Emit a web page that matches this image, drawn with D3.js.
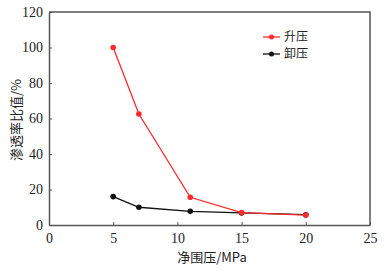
<!DOCTYPE html>
<html>
<head>
<meta charset="utf-8">
<script src="https://cdn.jsdelivr.net/npm/d3@7"></script>
<style>
  body { margin: 0; background: #fff; }
  svg { display: block; }
</style>
</head>
<body>
<svg id="chart"></svg>
<script>
// Data
var pressure = [5, 7, 11, 15, 20];
var loading = [100, 62.5, 15.6, 7, 5.6];     // 升压
var unloading = [16, 10, 7.7, 6.8, 5.8];     // 卸压
var xTicks = [0, 5, 10, 15, 20, 25];
var yTicks = [0, 20, 40, 60, 80, 100, 120];

var svgWidth = 390, svgHeight = 277;
var margin = { top: 12, right: 20, bottom: 52, left: 49 };
var width = svgWidth - margin.left - margin.right;
var height = svgHeight - margin.top - margin.bottom;

var svg = d3.select("#chart")
    .attr("width", svgWidth)
    .attr("height", svgHeight);

var g = svg.append("g")
    .attr("transform", "translate(" + margin.left + "," + margin.top + ")");

var x = d3.scaleLinear().domain([0, 25]).range([0, width]);
var y = d3.scaleLinear().domain([0, 120]).range([height, 0]);

var numFont = "'Liberation Serif', 'Times New Roman', serif";
var cjkFont = "'Noto Sans CJK SC', sans-serif";
var axisColor = "#555";

// axes with inner ticks
var xAxis = g.append("g")
    .attr("transform", "translate(0," + height + ")")
    .call(d3.axisBottom(x).tickValues(xTicks).tickSizeInner(-3).tickSizeOuter(0).tickPadding(8));
var yAxis = g.append("g")
    .call(d3.axisLeft(y).tickValues(yTicks).tickSizeInner(-3).tickSizeOuter(0).tickPadding(6));

[xAxis, yAxis].forEach(function(a) {
    a.select(".domain").attr("stroke", axisColor).attr("stroke-width", 1.5);
    a.selectAll(".tick line").attr("stroke", axisColor);
    a.selectAll(".tick text")
        .attr("fill", "#222")
        .style("font-family", numFont)
        .style("font-size", "14px");
});

// top and right border
g.append("path")
    .attr("d", "M0,0H" + width + "V" + height)
    .attr("fill", "none")
    .attr("stroke", axisColor)
    .attr("stroke-width", 1.5);

var series = [
    { name: "升压", values: loading, color: "#ff2a2a" },
    { name: "卸压", values: unloading, color: "#111" }
];

var line = d3.line()
    .x(function(d) { return x(d[0]); })
    .y(function(d) { return y(d[1]); });

// draw black under red
series.slice().reverse().forEach(function(s) {
    var pts = pressure.map(function(p, i) { return [p, s.values[i]]; });
    g.append("path")
        .datum(pts)
        .attr("d", line)
        .attr("fill", "none")
        .attr("stroke", s.color)
        .attr("stroke-width", 1.3);
    g.selectAll(null)
        .data(pts)
      .enter().append("circle")
        .attr("cx", function(d) { return x(d[0]); })
        .attr("cy", function(d) { return y(d[1]); })
        .attr("r", 2.8)
        .attr("fill", s.color);
});

// legend
var legend = g.append("g")
    .attr("transform", "translate(" + (263 - margin.left) + "," + (37 - margin.top) + ")");
series.forEach(function(s, i) {
    var row = legend.append("g").attr("transform", "translate(0," + (i * 17) + ")");
    row.append("line")
        .attr("x1", 0).attr("x2", 17)
        .attr("stroke", s.color).attr("stroke-width", 1.3);
    row.append("circle")
        .attr("cx", 8.5).attr("r", 2.5).attr("fill", s.color);
    row.append("text")
        .attr("x", 21).attr("dy", "0.35em")
        .attr("fill", "#222")
        .style("font-family", cjkFont)
        .style("font-size", "12px")
        .text(s.name);
});

// axis labels
svg.append("text")
    .attr("x", 212).attr("y", 262)
    .attr("text-anchor", "middle")
    .attr("fill", "#222")
    .style("font-family", cjkFont)
    .style("font-size", "13px")
    .text("净围压/MPa");

svg.append("text")
    .attr("transform", "translate(21,120) rotate(-90)")
    .attr("text-anchor", "middle")
    .attr("fill", "#222")
    .style("font-family", cjkFont)
    .style("font-size", "13px")
    .text("渗透率比值/%");
</script>
</body>
</html>
